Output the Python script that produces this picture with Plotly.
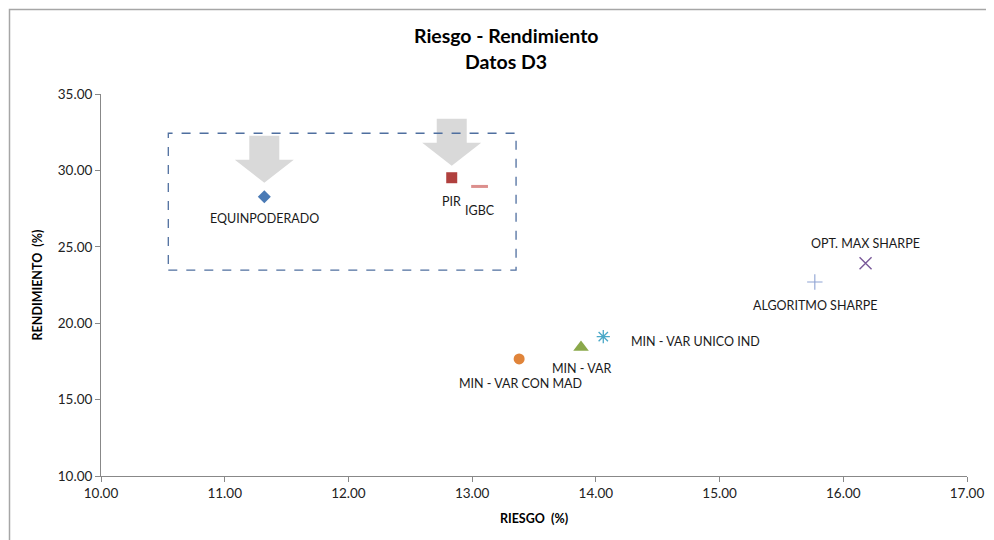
import plotly.graph_objects as go

# ---- data ----
names = ["EQUINPODERADO", "PIR", "IGBC", "MIN - VAR CON MAD", "MIN - VAR",
         "MIN - VAR UNICO IND", "OPT. MAX SHARPE", "ALGORITMO SHARPE"]
riesgo = [11.32, 12.835, 13.06, 13.38, 13.88, 14.06, 16.18, 15.77]
rendimiento = [28.28, 29.52, 28.95, 17.66, 18.42, 19.12, 23.92, 22.70]
x_ticks = [10, 11, 12, 13, 14, 15, 16, 17]
y_ticks = [10, 15, 20, 25, 30, 35]
highlight_box = dict(x0=10.544, x1=13.355, y0=23.48, y1=32.43)

# ---- styling ----
symbols = ["diamond", "square", "line-ew-open", "circle", "triangle-up",
           "asterisk-open", "x-thin-open", "cross-thin-open"]
colors = ["#4a7ab5", "#b0403e", "#dc8f8d", "#e0843a", "#8aa84a",
          "#4aa8c8", "#7a5a9a", "#8fa3d3"]
sizes = [10, 11, 12, 11, 13.5, 11, 12, 11]
lwidths = [0, 0, 3, 0, 0, 1.3, 1.4, 1.1]
# label offsets in pixels (xshift, yshift, xanchor)
label_pos = [(0, -22, "center"), (0, -24, "center"), (0, -24, "center"),
             (1, -25, "center"), (0, -21, "center"), (26, -5, "left"),
             (0, 20, "center"), (0, -24, "center")]

OFF = 8  # page body margin
W, H = 994, 540
L, R, T, B = 101 - OFF, 27 + OFF, 94 - OFF, 64 + OFF
pw, ph = W - L - R, H - T - B
xr, yr = [10, 17], [10, 35]
ux = (xr[1] - xr[0]) / pw  # data per px
uy = (yr[1] - yr[0]) / ph

fig = go.Figure()
FONT = "Lato, 'Liberation Sans', sans-serif"

for i, n in enumerate(names):
    fig.add_trace(go.Scatter(
        x=[riesgo[i]], y=[rendimiento[i]], mode="markers", name=n,
        marker=dict(symbol=symbols[i], color=colors[i], size=sizes[i],
                    line=dict(width=lwidths[i], color=colors[i])),
        showlegend=False, hoverinfo="x+y+name"))
    xs, ys, xa = label_pos[i]
    fig.add_annotation(x=riesgo[i], y=rendimiento[i], text=n, showarrow=False,
                       xshift=xs, yshift=ys, xanchor=xa, yanchor="middle",
                       font=dict(size=12.5, color="#1a1a1a", family=FONT))

shapes = []
shapes.append(dict(type="rect", xref="x", yref="y", **highlight_box,
                   line=dict(color="#4f6f9f", width=1.3, dash="dash")))

def arrow(tx, ty, gap, head_h, shaft_h):
    tipy = ty + gap * uy
    hb = tipy + head_h * uy
    top = hb + shaft_h * uy
    sw, hw = 15 * ux, 29.5 * ux
    return (f"M {tx} {tipy} L {tx-hw} {hb} L {tx-sw} {hb} L {tx-sw} {top} "
            f"L {tx+sw} {top} L {tx+sw} {hb} L {tx+hw} {hb} Z")

shapes.append(dict(type="path", xref="x", yref="y",
                   path=arrow(riesgo[0], rendimiento[0], 14, 23, 24),
                   fillcolor="#d9d9d9", line=dict(width=0), layer="below"))
shapes.append(dict(type="path", xref="x", yref="y",
                   path=arrow(riesgo[1], rendimiento[1], 12, 23, 24),
                   fillcolor="#d9d9d9", line=dict(width=0), layer="below"))

# outer chart border (page pixel coords -> paper)
def px_x(p):
    return (p - OFF - L) / pw
def px_y(p):
    return (H - B - (p - OFF)) / ph

shapes.append(dict(type="rect", xref="paper", yref="paper",
                   x0=px_x(9.5), x1=px_x(1010), y0=px_y(560), y1=px_y(9.5),
                   line=dict(color="#a6a6a6", width=1.5)))

fig.update_layout(
    width=W, height=H, margin=dict(l=L, r=R, t=T, b=B),
    paper_bgcolor="white", plot_bgcolor="white",
    shapes=shapes, showlegend=False,
    font=dict(family=FONT, color="#1a1a1a"),
)
fig.add_annotation(xref="paper", yref="paper", x=px_x(506), y=px_y(36),
                   text="<b>Riesgo - Rendimiento</b>", showarrow=False,
                   font=dict(size=19.5, family=FONT, color="#000"), yanchor="middle")
fig.add_annotation(xref="paper", yref="paper", x=px_x(506), y=px_y(61),
                   text="<b>Datos D3</b>", showarrow=False,
                   font=dict(size=19.5, family=FONT, color="#000"), yanchor="middle")

fig.update_xaxes(range=xr, tickvals=x_ticks,
                 ticktext=[f"{v:.2f}" for v in x_ticks],
                 showgrid=False, zeroline=False, showline=True,
                 linecolor="#888", linewidth=1, ticks="outside", ticklen=5,
                 tickcolor="#888", tickfont=dict(size=13.5, family=FONT, color="#222"),
                 title=dict(text="<b>RIESGO  (%)</b>", standoff=14,
                            font=dict(size=12.5, family=FONT, color="#000")))
fig.update_yaxes(range=yr, tickvals=y_ticks,
                 ticktext=[f"{v:.2f}" for v in y_ticks],
                 showgrid=False, zeroline=False, showline=True,
                 linecolor="#888", linewidth=1, ticks="outside", ticklen=5,
                 tickcolor="#888", tickfont=dict(size=13.5, family=FONT, color="#222"),
                 title=dict(text="<b>RENDIMIENTO  (%)</b>", standoff=12,
                            font=dict(size=12.5, family=FONT, color="#000")))

fig.write_html("out.html")
